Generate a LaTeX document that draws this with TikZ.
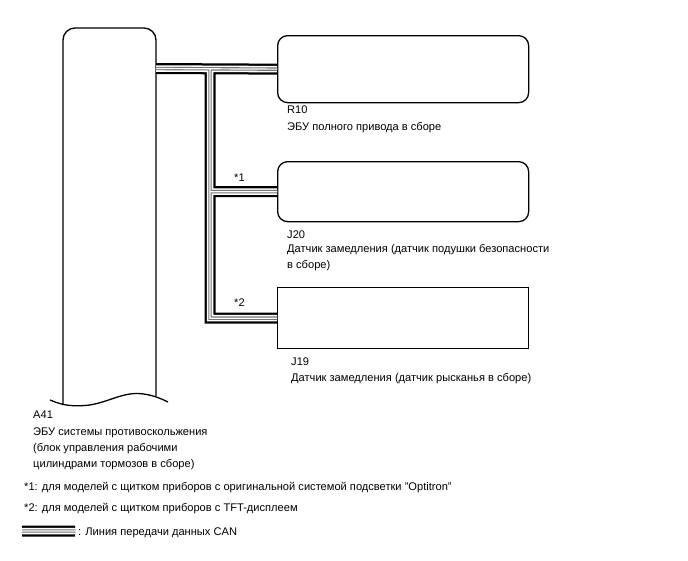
\documentclass[tikz,border=0pt]{standalone}
\usepackage{fontspec}
\setmainfont{Liberation Sans}
\begin{document}
\begin{tikzpicture}[x=1pt,y=-1pt,
  font=\fontsize{11.1}{13}\selectfont,
  ecubox/.style={draw, line width=1.3pt, anchor=north west, inner sep=0pt, minimum width=251pt},
  lbl/.style={anchor=base west, inner sep=0pt},
  outline/.style={line width=1.3pt, line join=round}]
\useasboundingbox (0,0) rectangle (688,560);

% A41 tall unit with broken (wavy) bottom
\draw[outline, rounded corners=12pt] (63,405) -- (63,28) -- (156,28) -- (156,396.5);
\draw[outline] (50,400) .. controls (62,405) and (70,406.5) .. (85,405.5)
  .. controls (105,404) and (120,393) .. (138,393.5)
  .. controls (150,394) and (160,398) .. (168,402);
\coordinate (a41) at (156,68.5);

% other units
\node[ecubox, rounded corners=10pt, minimum height=67pt] (r10) at (277,35) {};
\node[ecubox, rounded corners=10pt, minimum height=60pt] (j20) at (277,161) {};
\node[ecubox, minimum height=61pt] (j19) at (277,287) {};

% CAN bus
\coordinate (tj) at (210,68.5);
\coordinate (lg1) at (22,531);
\coordinate (lg2) at (75,531);
\foreach \w/\c in {11/black, 6.5/white, 3.4/black!55, 1.2/white}{
  \draw[line width=\w pt, \c, line join=miter]
    (a41) -- (r10.west)
    (tj) -- (tj |- j19.west) -- (j19.west)
    (tj |- j20.west) -- (j20.west)
    (lg1) -- (lg2);
}

% labels
\node[lbl] (s1) at (234,181) {*1};
\node[lbl] (s2) at (234,306) {*2};

\node[lbl] (r10a) at (287,113) {R10};
\node[lbl] (r10b) at (287,130) {ЭБУ полного привода в сборе};

\node[lbl] (j20a) at (287,238) {J20};
\node[lbl] (j20b) at (287,252) {Датчик замедления (датчик подушки безопасности};
\node[lbl] (j20c) at (287,268) {в сборе)};

\node[lbl] (j19a) at (291,365) {J19};
\node[lbl] (j19b) at (291,381) {Датчик замедления (датчик рысканья в сборе)};

\node[lbl] (a41a) at (33,418) {A41};
\node[lbl] (a41b) at (33,435) {ЭБУ системы противоскольжения};
\node[lbl] (a41c) at (33,451) {(блок управления рабочими};
\node[lbl] (a41d) at (33,467) {цилиндрами тормозов в сборе)};

\node[lbl] (fn1) at (24,490) {*1: для моделей с щитком приборов с оригинальной системой подсветки "Optitron"};
\node[lbl] (fn2) at (24,511) {*2: для моделей с щитком приборов с TFT-дисплеем};
\node[lbl] (leg) at (78,535) {: Линия передачи данных CAN};
\end{tikzpicture}
\end{document}
